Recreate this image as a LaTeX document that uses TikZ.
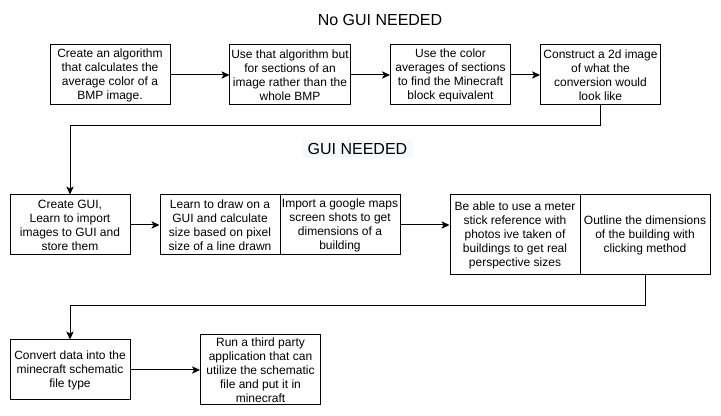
\documentclass[tikz,border=0pt]{standalone}
\usepackage{fontspec}
\setmainfont{Liberation Sans}
\usetikzlibrary{arrows.meta}
\definecolor{labelbg}{RGB}{248,249,250}

\tikzset{
	box/.style={draw=black, line width=0.75pt, fill=white, align=center, inner sep=1pt,
		minimum width=90pt, minimum height=45pt, font=\fontsize{9}{10.5}\selectfont},
	widebox/.style={box, minimum width=97.5pt, minimum height=60pt},
	flow/.style={draw=black, line width=0.75pt, -{Stealth[length=6pt, width=5.5pt, inset=1.5pt]}},
	heading/.style={font=\fontsize{12}{14}\selectfont}
}

\begin{document}
\begin{tikzpicture}[x=0.75pt, y=-0.75pt]
	\useasboundingbox (0,0) rectangle (721,416);
	% Headings
	\node [heading] (nogui) at (380,20) {No GUI NEEDED};
	\node [heading, fill=labelbg, minimum width=83pt, minimum height=13.5pt, inner sep=0pt] (gui) at (357.5,149) {GUI NEEDED};
	% First row
	\node [box] (avg) at (110,75) {Create an algorithm\\that calculates the\\average color of a\\BMP image.};
	\node [box] (sections) at (290,75) {Use that algorithm but\\for sections of an\\image rather than the\\whole BMP};
	\node [box] (block) at (450.5,75) {Use the color\\averages of sections\\to find the Minecraft\\block equivalent};
	\node [box] (preview) at (600.5,75) {Construct a 2d image\\of what the\\conversion would\\look like};
	% Second row
	\node [box] (creategui) at (70,225) {Create GUI,\\Learn to import\\images to GUI and\\store them};
	\node [box] (drawgui) at (220,225) {Learn to draw on a\\GUI and calculate\\size based on pixel\\size of a line drawn};
	\node [box] (maps) at (340,225) {Import a google maps\\screen shots to get\\dimensions of a\\building};
	\node [widebox] (meter) at (515,235) {Be able to use a meter\\stick reference with\\photos ive taken of\\buildings to get real\\perspective sizes};
	\node [widebox] (outline) at (645,235) {Outline the dimensions\\of the building with\\clicking method};
	% Third row
	\node [box] (convert) at (70,370) {Convert data into the\\minecraft schematic\\file type};
	\node [box, minimum height=52.5pt] (thirdparty) at (260.5,370) {Run a third party\\application that can\\utilize the schematic\\file and put it in\\minecraft};
	% Arrows
	\draw [flow] (avg) -- (sections);
	\draw [flow] (sections) -- (block);
	\draw [flow] (block) -- (preview);
	\draw [flow] (preview.south) -- ++(0,20) -| (creategui.north);
	\draw [flow] (creategui) -- (drawgui);
	\draw [flow] (maps.east) -- (maps.east -| meter.west);
	\draw [flow] (outline.south) -- ++(0,30) -| (convert.north);
	\draw [flow] (convert) -- (thirdparty);
\end{tikzpicture}
\end{document}
